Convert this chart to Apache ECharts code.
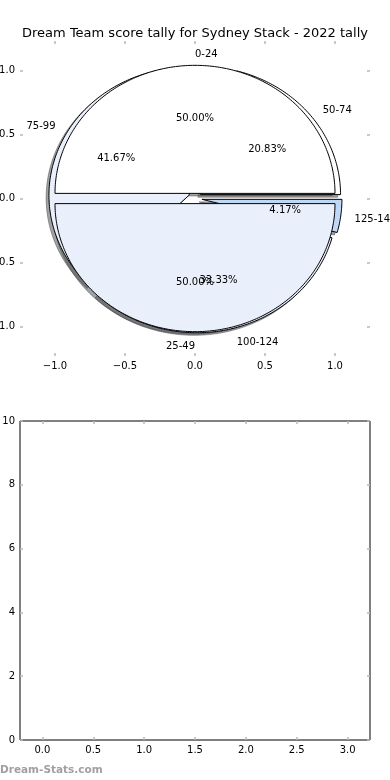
<!DOCTYPE html>
<html><head><meta charset="utf-8">
<script src="https://cdn.jsdelivr.net/npm/echarts@6/dist/echarts.min.js"></script>
<style>html,body{margin:0;padding:0;background:#fff}#c{width:390px;height:780px}</style>
</head><body><div id="c"></div>
<script>
// ---- data ----
const chartTitle = 'Dream Team score tally for Sydney Stack - 2022 tally';
const pieALabels = ['0-24', '25-49'];
const pieAValues = [12, 12];
const pieBLabels = ['50-74', '75-99', '100-124', '125-149'];
const pieBValues = [5, 10, 8, 1];
const pieTicks = [-1.0, -0.5, 0.0, 0.5, 1.0];
const barXTicks = [0.0, 0.5, 1.0, 1.5, 2.0, 2.5, 3.0];
const barYTicks = [0, 2, 4, 6, 8, 10];
const barValues = [];
const watermark = 'Dream-Stats.com';

// ---- styles ----
const pieAColors = ['#ffffff', '#eaf0fb'];
const pieBColors = ['#ffffff', '#eaf0fb', '#eaf0fb', '#bfd8f5'];
const pieAExplode = 0.04, pieBExplode = 0.05;
const FONT = 'DejaVu Sans';

function buildSlices(labels, values, colors, explode) {
  const total = values.reduce((a, b) => a + b, 0);
  let a = 0;
  return values.map((v, i) => {
    const a0 = a, a1 = a + 360 * v / total; a = a1;
    const mid = (a0 + a1) / 2 * Math.PI / 180;
    return { label: labels[i], pct: (100 * v / total).toFixed(2) + '%', a0, a1,
      cx: explode * Math.cos(mid), cy: explode * Math.sin(mid), mid, color: colors[i] };
  });
}
const slicesA = buildSlices(pieALabels, pieAValues, pieAColors, pieAExplode);
const slicesB = buildSlices(pieBLabels, pieBValues, pieBColors, pieBExplode);

function wedge(api, s, dx, dy) {
  const pts = [api.coord([s.cx + dx, s.cy + dy])];
  const n = Math.max(4, Math.ceil(s.a1 - s.a0));
  for (let k = 0; k <= n; k++) {
    const t = (s.a0 + (s.a1 - s.a0) * k / n) * Math.PI / 180;
    pts.push(api.coord([s.cx + dx + Math.cos(t), s.cy + dy + Math.sin(t)]));
  }
  return pts;
}
function shadowColor(hex) {
  const r = parseInt(hex.substr(1, 2), 16), g = parseInt(hex.substr(3, 2), 16), b = parseInt(hex.substr(5, 2), 16);
  return 'rgba(' + Math.round(r * 0.3) + ',' + Math.round(g * 0.3) + ',' + Math.round(b * 0.3) + ',0.5)';
}
function wedgeSeries(slices, z, isShadow) {
  return {
    type: 'custom', coordinateSystem: 'cartesian2d', xAxisIndex: 0, yAxisIndex: 0, z: z, silent: true,
    data: slices.map((s, i) => [s.cx, s.cy, i]),
    renderItem: function (params, api) {
      const s = slices[params.dataIndex];
      if (isShadow) {
        const c = shadowColor(s.color);
        return { type: 'polygon', shape: { points: wedge(api, s, -0.02, -0.02) }, style: { fill: c, stroke: c, lineWidth: 1 } };
      }
      return { type: 'polygon', shape: { points: wedge(api, s, 0, 0) }, style: { fill: s.color, stroke: '#000', lineWidth: 1 } };
    }
  };
}
const allSlices = slicesB.concat(slicesA);
const labelItems = [];
allSlices.forEach(s => {
  const c = Math.cos(s.mid), sn = Math.sin(s.mid);
  labelItems.push({ x: s.cx + 1.1 * c, y: s.cy + 1.1 * sn, text: s.label, align: c > 0 ? 'left' : 'right' });
  labelItems.push({ x: s.cx + 0.6 * c, y: s.cy + 0.6 * sn, text: s.pct, align: 'center' });
});

const fmt1 = v => (v < 0 ? '\u2212' : '') + Math.abs(v).toFixed(1);
const tickStyle = { show: true, inside: true, length: 3, lineStyle: { color: '#b8b8b8', width: 1.5 } };
const lbl = { fontFamily: FONT, fontSize: 10, color: '#000' };

const option = {
  animation: false,
  backgroundColor: '#fff',
  title: { text: chartTitle, left: 'center', top: 22, textStyle: { fontFamily: FONT, fontSize: 13, fontWeight: 'normal', color: '#000' } },
  graphic: [{ type: 'text', left: 0, top: 765, style: { text: watermark, fontFamily: FONT, fontSize: 10.5, fontWeight: 'bold', fill: '#a0a0a0' } }],
  grid: [
    { left: 20, right: 20, top: 41, height: 315, show: false, containLabel: false, outerBoundsMode: 'none' },
    { left: 20, right: 20, top: 421, bottom: 40, show: true, borderColor: '#000', borderWidth: 1, backgroundColor: 'transparent', containLabel: false, outerBoundsMode: 'none' }
  ],
  xAxis: [
    { type: 'value', gridIndex: 0, min: -1.25, max: 1.25, position: 'bottom', axisLine: { show: false, onZero: false }, splitLine: { show: false },
      axisTick: Object.assign({ customValues: pieTicks }, tickStyle), axisLabel: Object.assign({ customValues: pieTicks, formatter: fmt1, margin: 5 }, lbl) },
    { type: 'value', gridIndex: 0, min: -1.25, max: 1.25, position: 'top', axisLine: { show: false, onZero: false }, splitLine: { show: false },
      axisTick: Object.assign({ customValues: pieTicks }, tickStyle), axisLabel: { show: false } },
    { type: 'value', gridIndex: 1, min: -0.22, max: 3.22, position: 'bottom', axisLine: { show: false, onZero: false }, splitLine: { show: false },
      axisTick: Object.assign({ customValues: barXTicks }, tickStyle), axisLabel: Object.assign({ customValues: barXTicks, formatter: fmt1, margin: 5 }, lbl) },
    { type: 'value', gridIndex: 1, min: -0.22, max: 3.22, position: 'top', axisLine: { show: false, onZero: false }, splitLine: { show: false },
      axisTick: Object.assign({ customValues: barXTicks }, tickStyle), axisLabel: { show: false } }
  ],
  yAxis: [
    { type: 'value', gridIndex: 0, min: -1.23, max: 1.23, position: 'left', axisLine: { show: false, onZero: false }, splitLine: { show: false },
      axisTick: Object.assign({ customValues: pieTicks }, tickStyle), axisLabel: Object.assign({ customValues: pieTicks, formatter: fmt1, margin: 5 }, lbl) },
    { type: 'value', gridIndex: 0, min: -1.23, max: 1.23, position: 'right', axisLine: { show: false, onZero: false }, splitLine: { show: false },
      axisTick: Object.assign({ customValues: pieTicks }, tickStyle), axisLabel: { show: false } },
    { type: 'value', gridIndex: 1, min: 0, max: 10, interval: 2, position: 'left', axisLine: { show: false, onZero: false }, splitLine: { show: false },
      axisTick: Object.assign({ customValues: barYTicks }, tickStyle), axisLabel: Object.assign({ customValues: barYTicks, margin: 5 }, lbl) },
    { type: 'value', gridIndex: 1, min: 0, max: 10, interval: 2, position: 'right', axisLine: { show: false, onZero: false }, splitLine: { show: false },
      axisTick: Object.assign({ customValues: barYTicks }, tickStyle), axisLabel: { show: false } }
  ],
  series: [
    wedgeSeries(allSlices, 1, true),
    wedgeSeries(slicesB, 2, false),
    wedgeSeries(slicesA, 3, false),
    { type: 'custom', coordinateSystem: 'cartesian2d', xAxisIndex: 0, yAxisIndex: 0, z: 4, silent: true,
      data: labelItems.map((l, i) => [l.x, l.y, i]),
      renderItem: function (params, api) {
        const l = labelItems[params.dataIndex];
        const p = api.coord([l.x, l.y]);
        return { type: 'text', x: p[0], y: p[1] + 1.5, style: { text: l.text, textAlign: l.align, textVerticalAlign: 'middle', fontFamily: FONT, fontSize: 10, fill: '#000' } };
      } },
    { type: 'bar', xAxisIndex: 2, yAxisIndex: 2, data: barValues }
  ]
};
const chart = echarts.init(document.getElementById('c'), null, { renderer: 'canvas' });
chart.setOption(option);
</script></body></html>
